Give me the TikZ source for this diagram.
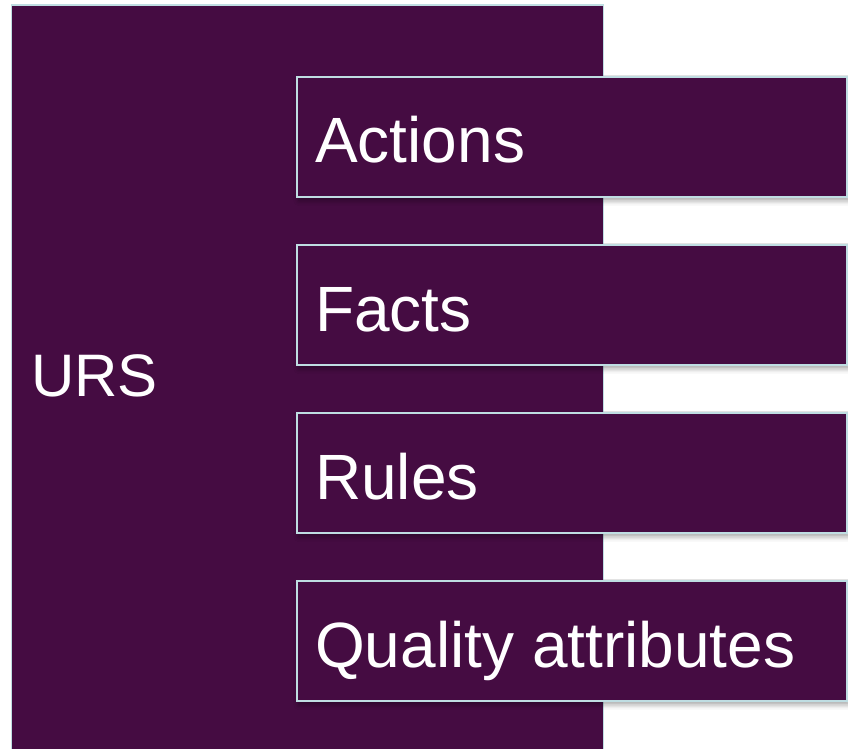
\documentclass[tikz,border=0pt]{standalone}
\usepackage{fontspec}
\setmainfont{Liberation Sans}
\usetikzlibrary{shadows.blur}
\definecolor{urspurple}{HTML}{450C42}
\definecolor{edgeblue}{HTML}{BFDDE2}
\tikzset{
  panel/.style={fill=urspurple, draw=edgeblue, line width=1.6pt},
  shadowpanel/.style={panel, blur shadow={shadow xshift=2pt, shadow yshift=-4pt, shadow blur radius=5pt, shadow opacity=35}},
  label/.style={anchor=base west, inner sep=0pt, text=white, font=\fontsize{64}{70}\selectfont},
  urslabel/.style={anchor=base west, inner sep=0pt, text=white, font=\fontsize{60}{66}\selectfont}
}
\begin{document}
\begin{tikzpicture}[x=1pt,y=1pt]
\useasboundingbox (0,0) rectangle (848,748);
\clip (0,0) rectangle (848,748);
\fill[white] (0,0) rectangle (848,748);
\node[panel, minimum width=592pt, minimum height=760pt, anchor=north west, inner sep=0pt] (urs) at (10.5,744) {};
\node[urslabel] (urst) at (31,352) {URS};
\node[shadowpanel, minimum width=550pt, minimum height=120pt, anchor=north west, inner sep=0pt] (b1) at (296,672) {};
\node[shadowpanel, minimum width=550pt, minimum height=120pt, anchor=north west, inner sep=0pt] (b2) at (296,504) {};
\node[shadowpanel, minimum width=550pt, minimum height=120pt, anchor=north west, inner sep=0pt] (b3) at (296,336) {};
\node[shadowpanel, minimum width=550pt, minimum height=120pt, anchor=north west, inner sep=0pt] (b4) at (296,168) {};
\node[label] (t1) at (315,585) {Actions};
\node[label] (t2) at (315,417) {Facts};
\node[label] (t3) at (315,249) {Rules};
\node[label] (t4) at (315,81) {Quality attributes};
\end{tikzpicture}
\end{document}
